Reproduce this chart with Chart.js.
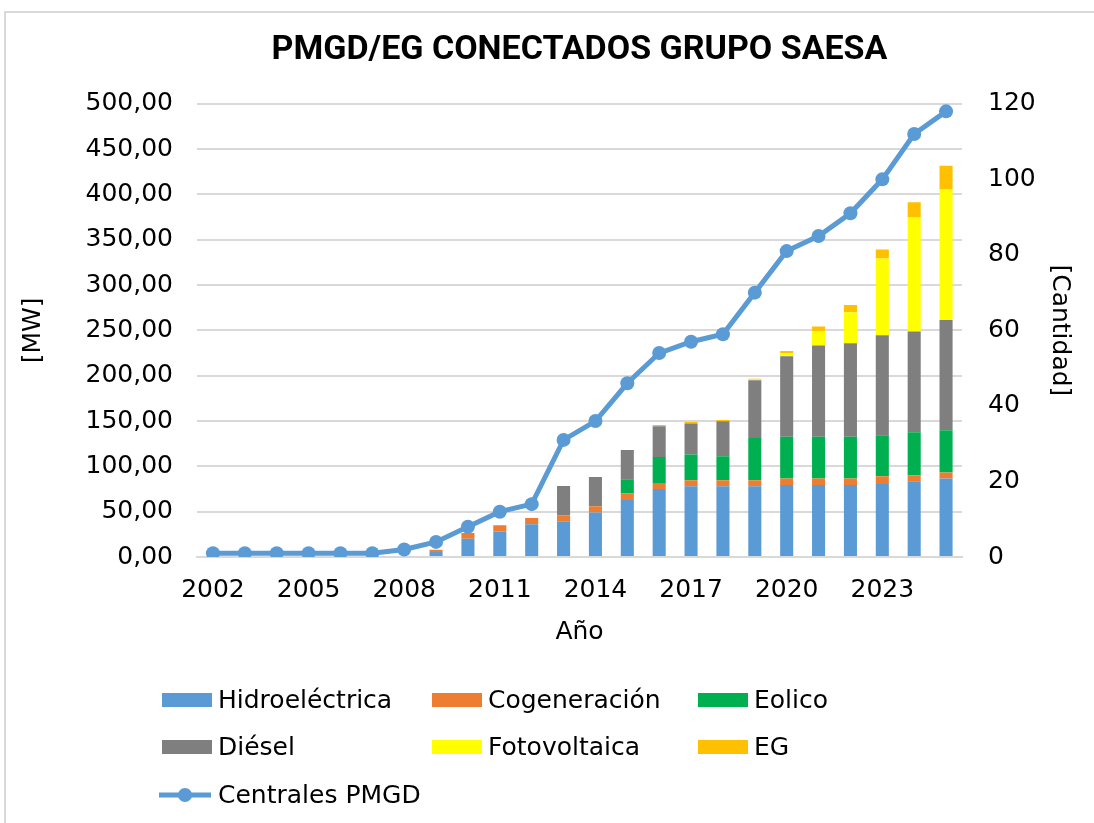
<!DOCTYPE html>
<html>
<head>
<meta charset="utf-8">
<script src="https://cdn.jsdelivr.net/npm/chart.js@4.4.1/dist/chart.umd.min.js"></script>
<style>
  html, body { margin: 0; padding: 0; background: #ffffff; }
  #wrap { position: relative; width: 1094px; height: 823px; overflow: hidden; }
  #frame { position: absolute; left: 4px; top: 11px; width: 1100px; height: 830px; border: 2px solid #d9d9d9; box-sizing: border-box; }
  canvas { position: absolute; left: 0; top: 0; }
  .lg { position: absolute; font-family: "DejaVu Sans", sans-serif; font-size: 25px; color: #000; line-height: 29px; white-space: nowrap; }
  .lg .box { position: absolute; left: 0; top: 8px; width: 50px; height: 14px; }
  .lg .txt { position: absolute; left: 56px; top: 0; }
</style>
</head>
<body>
<div id="wrap">
  <div id="frame"></div>
  <canvas id="c" width="1094" height="823"></canvas>
  <div id="legend"></div>
</div>
<script>
const years = ["2002","2003","2004","2005","2006","2007","2008","2009","2010","2011","2012","2013","2014","2015","2016","2017","2018","2019","2020","2021","2022","2023","2024","2025"];
const hidroelectrica = [0,0,0,0,0,0,0,5.5,20,28,36,39,49,63,75,78,78,78,79.5,79.5,79.5,80.6,83.5,86.5];
const cogeneracion   = [0,0,0,0,0,0,0,2.5,6.6,7,7,7,7,7,6.7,6.6,6.6,6.6,7,7,7,8.4,6.6,6.6];
const eolico         = [0,0,0,0,0,0,0,0,0,0,0,0,0,15.8,28.7,28.5,26.5,46.8,46.3,46.3,46.3,45.3,47.5,46.8];
const diesel         = [0,0,0,0,0,0,0,0,0,0,0,32.3,32.3,32.3,33.8,34.3,38.6,63.6,88.7,100.5,103,110.4,111.1,121.7];
const fotovoltaica   = [0,0,0,0,0,0,0,0,0,0,0,0,0,0,0,0,0,0.8,3.3,15.8,34.2,84.6,125.8,143.8];
const eg             = [0,0,0,0,0,0,0,0,0,0,0,0,0,0,1.5,1.5,1.5,0.8,2.6,5.1,8,9.9,17,26.2];
const centralesPMGD  = [1,1,1,1,1,1,2,4,8,12,14,31,36,46,54,57,59,70,81,85,91,100,112,118];
const leftTicks = [0,50,100,150,200,250,300,350,400,450,500];
const rightTicks = [0,20,40,60,80,100,120];

const C = {
  hidro: "#5B9BD5", cogen: "#ED7D31", eolico: "#00B050",
  diesel: "#7F7F7F", foto: "#FFFF00", eg: "#FFC000", line: "#5B9BD5"
};
const FONT = "'DejaVu Sans', sans-serif";
const FS = 25;

function barDs(label, data, color) {
  return { type: "bar", label, data, backgroundColor: color, borderWidth: 0,
           yAxisID: "y", stack: "s", order: 2, categoryPercentage: 1.0, barPercentage: 0.41 };
}

const chart = new Chart(document.getElementById("c"), {
  data: {
    labels: years,
    datasets: [
      { type: "line", label: "Centrales PMGD", data: centralesPMGD, yAxisID: "y1",
        borderColor: C.line, backgroundColor: C.line, borderWidth: 5,
        pointRadius: 7, pointBackgroundColor: C.line, pointBorderColor: C.line,
        pointBorderWidth: 0, tension: 0, order: 0 },
      barDs("Hidroeléctrica", hidroelectrica, C.hidro),
      barDs("Cogeneración", cogeneracion, C.cogen),
      barDs("Eolico", eolico, C.eolico),
      barDs("Diésel", diesel, C.diesel),
      barDs("Fotovoltaica", fotovoltaica, C.foto),
      barDs("EG", eg, C.eg)
    ]
  },
  options: {
    responsive: false,
    animation: false,
    devicePixelRatio: 1,
    layout: { padding: { left: 10, right: 10, top: 12, bottom: 171 } },
    plugins: {
      legend: { display: false },
      tooltip: { enabled: false },
      title: {
        display: true, fullSize: false, text: "PMGD/EG CONECTADOS GRUPO SAESA", color: "#000",
        font: { family: "Roboto, sans-serif", size: 34, weight: "bold" },
        padding: { top: 18, bottom: 33 }
      }
    },
    scales: {
      x: {
        stacked: true,
        grid: { display: false, drawTicks: false },
        border: { display: true, color: "#d9d9d9", width: 2 },
        ticks: {
          color: "#000", font: { family: FONT, size: FS }, padding: 18,
          autoSkip: false, maxRotation: 0, minRotation: 0,
          callback: function(v, i) { return i % 3 === 0 ? years[i] : ""; }
        },
        title: { display: true, text: "Año", color: "#000", font: { family: FONT, size: FS }, padding: { top: 0, bottom: 5 } },
        afterFit: function(s) { s.height = 95; }
      },
      y: {
        stacked: true, position: "left", min: 0, max: 500,
        afterBuildTicks: function(s) { s.ticks = leftTicks.map(v => ({ value: v })); },
        grid: { color: "#d9d9d9", lineWidth: 2, drawTicks: false },
        border: { display: false },
        ticks: {
          color: "#000", font: { family: FONT, size: FS }, padding: 24,
          callback: function(v) { return v.toFixed(2).replace(".", ","); }
        },
        title: { display: true, text: "[MW]", color: "#000", font: { family: FONT, size: FS }, padding: { top: 8, bottom: 0 } },
        afterFit: function(s) { s.width = 187; }
      },
      y1: {
        stacked: false, position: "right", min: 0, max: 120,
        afterBuildTicks: function(s) { s.ticks = rightTicks.map(v => ({ value: v })); },
        grid: { display: false, drawTicks: false },
        border: { display: false },
        ticks: { color: "#000", font: { family: FONT, size: FS }, padding: 26 },
        title: { display: true, text: "[Cantidad]", color: "#000", font: { family: FONT, size: FS }, padding: { top: 10, bottom: 0 } },
        afterFit: function(s) { s.width = 122; }
      }
    }
  }
});

// HTML legend built from the chart's datasets
const legendPos = [
  ["Hidroeléctrica", 162, 685], ["Cogeneración", 432, 685], ["Eolico", 698, 685],
  ["Diésel", 162, 732], ["Fotovoltaica", 432, 732], ["EG", 698, 732],
  ["Centrales PMGD", 162, 780]
];
const lg = document.getElementById("legend");
legendPos.forEach(([name, x, y]) => {
  const ds = chart.data.datasets.find(d => d.label === name);
  const el = document.createElement("div");
  el.className = "lg";
  el.style.left = x + "px";
  el.style.top = y + "px";
  if (ds.type === "line") {
    el.innerHTML = '<svg style="position:absolute;left:-3px;top:5px" width="56" height="20"><line x1="0" y1="10" x2="52" y2="10" stroke="' + ds.borderColor + '" stroke-width="5"/><circle cx="26" cy="10" r="7" fill="' + ds.borderColor + '"/></svg><span class="txt">' + name + '</span>';
  } else {
    el.innerHTML = '<span class="box" style="background:' + ds.backgroundColor + '"></span><span class="txt">' + name + '</span>';
  }
  lg.appendChild(el);
});
</script>
</body>
</html>
